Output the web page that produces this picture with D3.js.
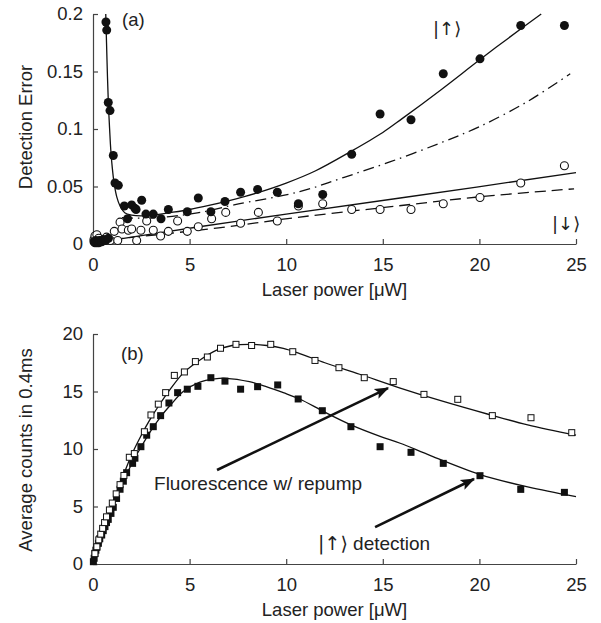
<!DOCTYPE html>
<html>
<head>
<meta charset="utf-8">
<script src="https://cdn.jsdelivr.net/npm/d3@7"></script>
<style>
  body { margin: 0; background: #fff; }
  svg { display: block; }
  text { font-family: "Liberation Sans", Arial, sans-serif; fill: #222; }
  .ket { font-family: "DejaVu Sans", "Liberation Sans", sans-serif; }
</style>
</head>
<body>
<div id="chart"></div>
<script>
// ---- panel (a): detection error vs laser power ----
const xTicks = [0, 5, 10, 15, 20, 25];
const errTicks = [0, 0.05, 0.1, 0.15, 0.2];
const countTicks = [0, 5, 10, 15, 20];

// |up> measured (filled circles)
const upPoints = [
  [0.05,0.002],[0.1,0.001],[0.15,0.003],[0.2,0.001],[0.25,0.002],[0.3,0.001],[0.35,0.003],
  [0.45,0.002],[0.55,0.004],[0.65,0.003],[0.8,0.005],
  [0.67,0.193],[0.71,0.186],[0.79,0.123],[0.88,0.116],[1.05,0.077],[1.14,0.053],[1.31,0.051],
  [1.62,0.033],[1.79,0.022],[2.0,0.034],[2.17,0.031],[2.23,0.030],[2.52,0.038],[2.74,0.026],
  [3.12,0.026],[3.52,0.022],[3.9,0.030],[4.88,0.028],[5.45,0.040],[6.1,0.028],[6.83,0.037],
  [7.64,0.045],[8.52,0.0475],[9.54,0.045],[10.63,0.035],[11.89,0.043],[13.39,0.078],
  [14.86,0.113],[16.46,0.108],[18.13,0.148],[20.03,0.161],[22.14,0.190],[24.4,0.190]
];
// |down> measured (open circles)
const downPoints = [
  [0.05,0.004],[0.1,0.007],[0.2,0.008],[0.3,0.005],[0.4,0.003],[0.55,0.004],[0.7,0.006],
  [0.9,0.003],[1.1,0.011],[1.28,0.003],[1.4,0.019],[1.5,0.013],[1.83,0.012],[2.0,0.013],
  [2.26,0.003],[2.48,0.012],[2.78,0.020],[3.12,0.012],[3.5,0.007],[3.9,0.011],[4.38,0.020],
  [4.88,0.011],[5.45,0.015],[6.14,0.022],[6.87,0.0275],[7.64,0.018],[8.56,0.0275],[9.54,0.020],
  [10.63,0.033],[11.89,0.035],[13.39,0.030],[14.86,0.030],[16.46,0.030],[18.13,0.035],
  [20.03,0.0405],[22.14,0.053],[24.4,0.068]
];
// model curves
const upFit = [
  [0.66,0.2],[0.7,0.175],[0.75,0.145],[0.8,0.12],[0.86,0.1],[0.92,0.082],[1.0,0.066],[1.1,0.052],
  [1.23,0.041],[1.4,0.033],[1.66,0.027],[2.0,0.0252],[2.5,0.0245],[3.2,0.0252],[3.9,0.027],
  [5,0.030],[6,0.0335],[7,0.0375],[8.5,0.0445],[10,0.053],[11.5,0.0635],[13.4,0.081],[15,0.097],
  [16,0.109],[18,0.134],[20,0.160],[21.5,0.179],[23.2,0.2]
];
const upFitAlt = [
  [1.5,0.023],[3,0.0225],[5.4,0.027],[7.3,0.034],[10.7,0.0455],[13,0.058],[15.4,0.0716],
  [18,0.088],[20,0.102],[22.5,0.124],[24.7,0.148]
];
const downFit = [[0.5,0.002],[5.5,0.015],[10,0.026],[15.9,0.040],[25,0.062]];
const downFitAlt = [[1,0.004],[6.5,0.014],[10.5,0.023],[15.2,0.032],[20,0.041],[24.9,0.048]];

// ---- panel (b): average counts vs laser power ----
const repumpPoints = [
  [0.1,0.9],[0.2,1.5],[0.3,2.1],[0.4,2.6],[0.5,3.1],[0.6,3.6],[0.7,4.1],[0.85,4.7],[1.0,5.3],
  [1.2,6.1],[1.4,6.9],[1.6,7.7],[1.88,9.28],[2.14,9.6],[2.66,11.5],[3.0,12.96],[3.38,13.9],
  [3.76,14.9],[4.21,16.4],[4.73,16.7],[5.3,17.6],[5.92,18.0],[6.6,18.76],[7.4,19.1],[8.21,19.0],
  [9.2,19.1],[10.34,18.46],[11.49,17.7],[12.73,17.07],[14.04,16.2],[15.54,15.86],[17.13,14.75],
  [18.88,14.32],[20.67,12.9],[22.67,12.72],[24.78,11.42]
];
const detectPoints = [
  [0.02,0.2],[0.06,0.5],[0.1,0.93],[0.15,1.2],[0.2,1.45],[0.28,1.8],[0.35,2.2],[0.45,2.52],
  [0.53,2.9],[0.62,3.25],[0.7,3.6],[0.79,3.88],[0.93,4.4],[1.05,4.93],[1.22,5.7],[1.4,6.5],
  [1.57,7.2],[1.74,7.94],[2.05,8.75],[2.17,9.2],[2.48,10.2],[2.78,11.2],[3.12,11.94],[3.5,12.9],
  [3.93,14.0],[4.38,14.9],[4.88,15.2],[5.43,15.45],[6.1,16.2],[6.83,15.9],[7.64,15.2],
  [8.52,15.42],[9.56,15.57],[10.62,14.35],[11.87,13.33],[13.35,11.94],[14.86,10.2],[16.46,9.71],
  [18.13,8.75],[20.03,7.68],[22.14,6.49],[24.4,6.23]
];
const repumpFit = [
  [0,0],[0.5,2.8],[1,5.2],[1.5,7.4],[2,9.5],[2.5,11.2],[3,12.7],[3.5,14.0],[4,15.2],[4.67,16.6],
  [5.5,17.7],[6.4,18.6],[7.2,19.0],[8.1,19.1],[9.0,19.0],[9.85,18.75],[10.7,18.3],[12,17.5],
  [13.8,16.5],[15.9,15.3],[18,14.2],[20.5,13.0],[22.5,12.1],[25,11.2]
];
const detectFit = [
  [0,0],[0.5,2.6],[1,4.8],[1.5,6.9],[2,8.7],[2.5,10.2],[3,11.6],[3.5,12.8],[4,13.8],[4.67,15.0],
  [5.5,15.8],[6.3,16.1],[6.9,16.15],[8.1,15.85],[9.0,15.4],[9.85,14.9],[10.7,14.35],[12.0,13.2],
  [13.35,12.1],[14.86,11.1],[15.9,10.5],[17.5,9.4],[20.0,7.8],[22.5,6.7],[25,5.85]
];
// annotation arrows [x0, y0, x1, y1] in data units
const arrows = [[6.42,8.17,15.27,15.3],[14.6,3.2,19.72,7.39]];

const W = 601, H = 623;
const left = 93, right = 576;

const svg = d3.select("#chart").append("svg")
    .attr("width", W)
    .attr("height", H);

svg.append("defs").append("marker")
    .attr("id", "head")
    .attr("viewBox", "0 -5 12 10")
    .attr("refX", 11)
    .attr("refY", 0)
    .attr("markerUnits", "userSpaceOnUse")
    .attr("markerWidth", 15)
    .attr("markerHeight", 12)
    .attr("orient", "auto")
  .append("path")
    .attr("d", "M0,-4.5L12,0L0,4.5L2.5,0Z")
    .attr("fill", "#111");

const x = d3.scaleLinear().domain([0, 25]).range([left, right]);
const yA = d3.scaleLinear().domain([0, 0.2]).range([244, 14]);
const yB = d3.scaleLinear().domain([0, 20]).range([564, 334]);

function drawAxes(y, yTicks, fmt, yLabel, labelMidY, xLabelY) {
    const [y0] = y.range();
    const gx = svg.append("g")
        .attr("transform", "translate(0," + y0 + ")")
        .call(d3.axisBottom(x).tickValues(xTicks).tickSizeInner(-5).tickSizeOuter(0).tickPadding(14));
    const gy = svg.append("g")
        .attr("transform", "translate(" + left + ",0)")
        .call(d3.axisLeft(y).tickValues(yTicks).tickFormat(fmt).tickSizeInner(-5).tickSizeOuter(0).tickPadding(10));
    [gx, gy].forEach(g => {
        g.selectAll("path, line").attr("stroke", "#444").attr("stroke-width", 1.2);
        g.selectAll("text").attr("font-size", 18.5).attr("fill", "#222")
            .attr("font-family", "Liberation Sans, Arial, sans-serif");
    });
    svg.append("text")
        .attr("x", (left + right) / 2)
        .attr("y", xLabelY)
        .attr("text-anchor", "middle")
        .attr("font-size", 18.5)
        .text("Laser power [\u03bcW]");
    svg.append("text")
        .attr("transform", "translate(32," + labelMidY + ") rotate(-90)")
        .attr("text-anchor", "middle")
        .attr("font-size", 18.5)
        .text(yLabel);
}

drawAxes(yA, errTicks, d => d === 0 ? "0" : String(d), "Detection Error", 127, 296);
drawAxes(yB, countTicks, d3.format("d"), "Average counts in 0.4ms", 450, 616);

const lineA = d3.line().x(d => x(d[0])).y(d => yA(d[1])).curve(d3.curveCatmullRom.alpha(0.5));
const lineB = d3.line().x(d => x(d[0])).y(d => yB(d[1])).curve(d3.curveCatmullRom.alpha(0.5));

// panel (a) curves
[[upFit, null], [upFitAlt, "11,5,1.5,5"], [downFit, null], [downFitAlt, "11,6"]].forEach(([data, dash]) => {
    svg.append("path")
        .attr("d", lineA(data))
        .attr("fill", "none")
        .attr("stroke", "#111")
        .attr("stroke-width", 1.3)
        .attr("stroke-dasharray", dash);
});

svg.append("g").selectAll("circle")
    .data(downPoints)
    .join("circle")
    .attr("cx", d => x(d[0]))
    .attr("cy", d => yA(d[1]))
    .attr("r", 4)
    .attr("fill", "#fff")
    .attr("stroke", "#111")
    .attr("stroke-width", 1.1);

svg.append("g").selectAll("circle")
    .data(upPoints)
    .join("circle")
    .attr("cx", d => x(d[0]))
    .attr("cy", d => yA(d[1]))
    .attr("r", 4.5)
    .attr("fill", "#111");

// panel (b) curves
[repumpFit, detectFit].forEach(data => {
    svg.append("path")
        .attr("d", lineB(data))
        .attr("fill", "none")
        .attr("stroke", "#111")
        .attr("stroke-width", 1.3);
});

const sq = 7;
svg.append("g").selectAll("rect")
    .data(detectPoints)
    .join("rect")
    .attr("x", d => x(d[0]) - sq / 2)
    .attr("y", d => yB(d[1]) - sq / 2)
    .attr("width", sq)
    .attr("height", sq)
    .attr("fill", "#111");

svg.append("g").selectAll("rect")
    .data(repumpPoints)
    .join("rect")
    .attr("x", d => x(d[0]) - (sq - 1) / 2)
    .attr("y", d => yB(d[1]) - (sq - 1) / 2)
    .attr("width", sq - 1)
    .attr("height", sq - 1)
    .attr("fill", "#fff")
    .attr("stroke", "#111")
    .attr("stroke-width", 1);

svg.append("g").selectAll("line")
    .data(arrows)
    .join("line")
    .attr("x1", d => x(d[0]))
    .attr("y1", d => yB(d[1]))
    .attr("x2", d => x(d[2]))
    .attr("y2", d => yB(d[3]))
    .attr("stroke", "#111")
    .attr("stroke-width", 2.6)
    .attr("marker-end", "url(#head)");

// labels
svg.append("text").attr("x", x(1.5)).attr("y", yA(0.19)).attr("font-size", 18.5).text("(a)");
svg.append("text").attr("x", x(1.45)).attr("y", yB(17.7)).attr("font-size", 18.5).text("(b)");
svg.append("text").attr("class", "ket").attr("x", x(17.6)).attr("y", yA(0.182))
    .attr("font-size", 18).text("|\u2191\u27e9");
svg.append("text").attr("class", "ket").attr("x", x(23.76)).attr("y", yA(0.012))
    .attr("font-size", 18).text("|\u2193\u27e9");
svg.append("text").attr("x", x(3.16)).attr("y", yB(6.43)).attr("font-size", 19)
    .text("Fluorescence w/ repump");
const det = svg.append("text").attr("x", x(11.65)).attr("y", yB(1.2)).attr("font-size", 19);
det.append("tspan").attr("class", "ket").text("|\u2191\u27e9");
det.append("tspan").text(" detection");
</script>
</body>
</html>
